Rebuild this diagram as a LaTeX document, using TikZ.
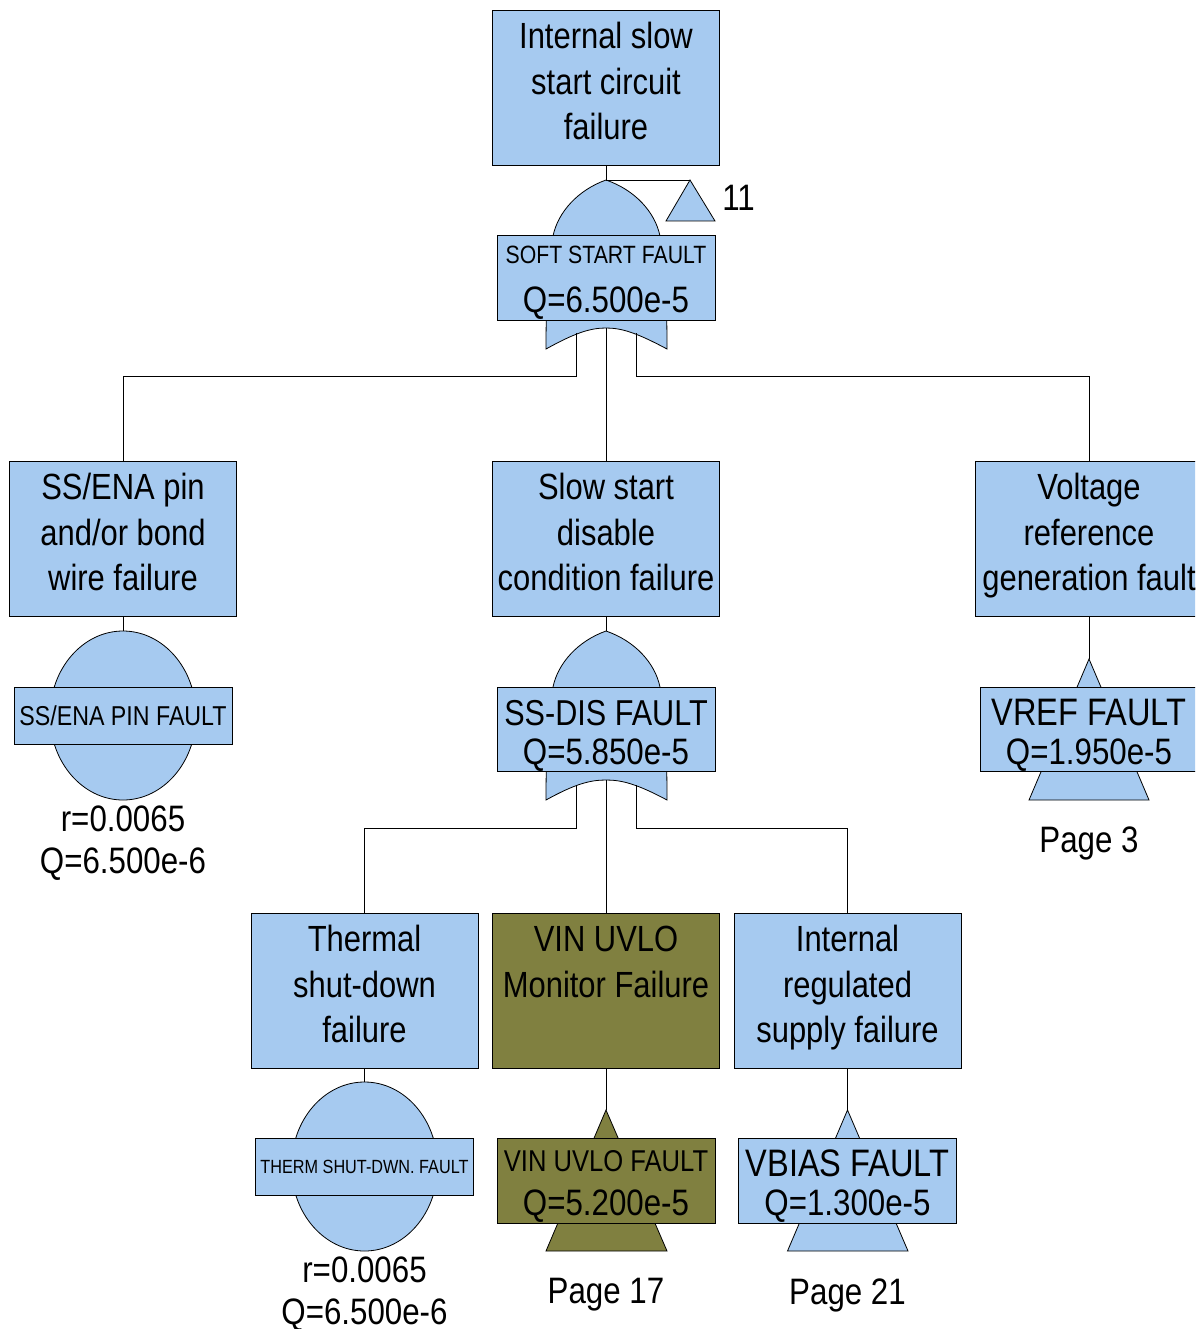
\documentclass[tikz,border=0pt]{standalone}
\usepackage{fontspec}
\setmainfont[FakeStretch=0.85]{Liberation Sans}
\definecolor{faultblue}{HTML}{A6CAF0}
\definecolor{faultolive}{HTML}{808040}
\newcommand{\sizeat}[1]{\fontsize{#1}{#1}\selectfont}
\begin{document}
\begin{tikzpicture}[x=1pt,y=-1pt,line width=0.8pt]
	\tikzstyle{every node}+=[inner sep=0pt]
	\tikzstyle{eventbox}=[draw=black,fill=faultblue,minimum width=227pt,minimum height=155pt,align=center,font=\fontsize{36.4}{45.3}\selectfont,execute at begin node={\rule[-15pt]{0pt}{134pt}}]
	\tikzstyle{gatelabel}=[draw=black,fill=faultblue,minimum width=218pt,minimum height=84.5pt,align=center,font=\fontsize{36.8}{39}\selectfont,execute at begin node={\rule{0pt}{76pt}}]
	\tikzstyle{striplabel}=[draw=black,fill=faultblue,minimum width=218pt,minimum height=57pt,align=center]
	\tikzstyle{gateshape}=[draw=black,fill=faultblue]
	\tikzstyle{plaintext}=[align=center,font=\fontsize{36.8}{42}\selectfont]
	\useasboundingbox (0,0) rectangle (1195,1329);
	\clip (0,0) rectangle (1195,1329);

	\coordinate (softtop) at (606,180);
	\coordinate (softl) at (576,333);
	\coordinate (softm) at (606,328);
	\coordinate (softr) at (636,333);
	\coordinate (softbus) at (606,376.5);
	\coordinate (distop) at (606,631);
	\coordinate (disl) at (576,785);
	\coordinate (dism) at (606,780);
	\coordinate (disr) at (636,785);
	\coordinate (disbus) at (606,828.5);
	\coordinate (pintop) at (123,631);
	\coordinate (thermtop) at (364.5,1082);
	\coordinate (vreftop) at (1089,659);
	\coordinate (uvlotop) at (606,1110);
	\coordinate (vbiastop) at (847.5,1110);
	\coordinate (refapex) at (690,180);

	\draw [gateshape] (softtop) .. controls (578,190) and (558,212) .. (553,236) .. controls (548,255) and (546,300) .. (546,349) .. controls (575,333) and (590,328) .. (softm) .. controls (622,328) and (637,333) .. (667,349) .. controls (667,300) and (665,255) .. (660,236) .. controls (655,212) and (635,190) .. (softtop);
	\draw [gateshape] (refapex) -- (666,221) -- (715,221) -- cycle;
	\draw [gateshape] (distop) .. controls (578,641) and (558,663) .. (553,687) .. controls (548,706) and (546,751) .. (546,800) .. controls (575,784) and (590,780) .. (dism) .. controls (622,780) and (637,784) .. (667,800) .. controls (667,751) and (665,706) .. (660,687) .. controls (655,663) and (635,641) .. (distop);
	\draw [gateshape] (123,715.5) ellipse [x radius=73,y radius=84.5];
	\draw [gateshape] (364.5,1166.5) ellipse [x radius=73,y radius=84.5];
	\draw [gateshape] (vreftop) -- (1029,800) -- (1149,800) -- cycle;
	\draw [gateshape,fill=faultolive] (uvlotop) -- (546,1251) -- (667,1251) -- cycle;
	\draw [gateshape] (vbiastop) -- (787.5,1251) -- (908,1251) -- cycle;

	\node [eventbox] (topevent) at (606,87.5) {Internal slow\\start circuit\\failure};
	\node [gatelabel] (softfault) at (606,278) {{\sizeat{25}SOFT START FAULT}\\[10pt]Q=6.500e-5};
	\node [plaintext] (refnum) at (738.5,198) {11};

	\node [eventbox] (ssena) at (123,538.5) {SS/ENA pin\\and/or bond\\wire failure};
	\node [eventbox] (disable) at (606,538.5) {Slow start\\disable\\condition failure};
	\node [eventbox] (voltage) at (1089,538.5) {Voltage\\reference\\generation fault};

	\node [striplabel] (pinfault) at (123,715.5) {\sizeat{27.3}SS/ENA PIN FAULT};
	\node [plaintext] (pinrate) at (123,843) {r=0.0065\\Q=6.500e-6};
	\node [gatelabel] (disfault) at (606,729.5) {{\sizeat{36}SS-DIS FAULT}\\Q=5.850e-5};
	\node [gatelabel] (vreffault) at (1089,729.5) {{\sizeat{38.3}VREF FAULT}\\Q=1.950e-5};
	\node [plaintext] (page3) at (1089,843) {Page 3};

	\node [eventbox] (thermal) at (364.5,990.5) {Thermal\\shut-down\\failure};
	\node [eventbox,fill=faultolive] (uvlo) at (606,990.5) {VIN UVLO\\Monitor Failure\\ \strut};
	\node [eventbox] (regulated) at (847.5,990.5) {Internal\\regulated\\supply failure};

	\node [striplabel] (thermfault) at (364.5,1167) {\sizeat{19.1}THERM SHUT-DWN. FAULT};
	\node [plaintext] (thermrate) at (364.5,1294) {r=0.0065\\Q=6.500e-6};
	\node [gatelabel,fill=faultolive] (uvlofault) at (606,1181) {{\sizeat{30.1}VIN UVLO FAULT}\\[5pt]Q=5.200e-5};
	\node [gatelabel] (vbiasfault) at (847.5,1181) {{\sizeat{38.3}VBIAS FAULT}\\Q=1.300e-5};
	\node [plaintext] (page17) at (606,1295) {Page 17};
	\node [plaintext] (page21) at (847.5,1295) {Page 21};

	\draw (topevent.south) -- (softtop);
	\draw (softtop) -- (refapex);
	\draw (softm) -- (disable.north);
	\draw (softl) -- (softl |- softbus) -| (ssena.north);
	\draw (softr) -- (softr |- softbus) -| (voltage.north);
	\draw (ssena.south) -- (pintop);
	\draw (disable.south) -- (distop);
	\draw (voltage.south) -- (vreftop);
	\draw (dism) -- (uvlo.north);
	\draw (disl) -- (disl |- disbus) -| (thermal.north);
	\draw (disr) -- (disr |- disbus) -| (regulated.north);
	\draw (thermal.south) -- (thermtop);
	\draw (uvlo.south) -- (uvlotop);
	\draw (regulated.south) -- (vbiastop);
\end{tikzpicture}
\end{document}
